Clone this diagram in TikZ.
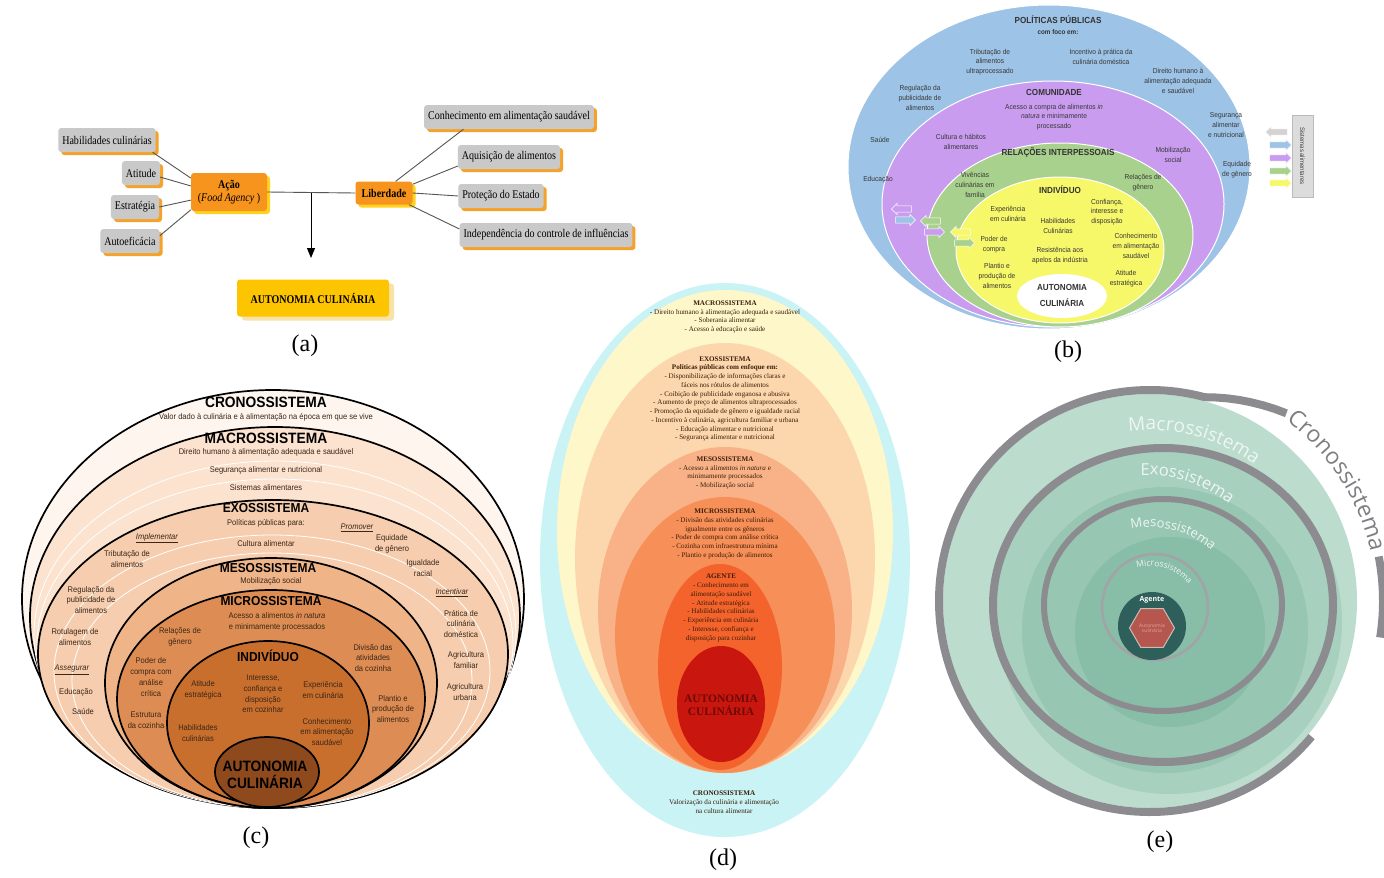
\documentclass[tikz,border=0pt]{standalone}
\usepackage{fontspec}
\setmainfont{Liberation Serif}
\newfontfamily\serifc[FakeStretch=0.85]{Liberation Serif}
\newfontfamily\sansc[FakeStretch=0.92]{Liberation Sans}
\newfontfamily\esans{Open Sans}
\usetikzlibrary{shapes.geometric,shapes.arrows,arrows.meta,decorations.text,shadows}

\definecolor{aGray}{HTML}{C9C9C9}
\definecolor{aOrange}{HTML}{F7941D}
\definecolor{aShadow}{HTML}{F5A22A}
\definecolor{aYellow}{HTML}{FFD21F}
\definecolor{aGold}{HTML}{FDC400}
\definecolor{aPale}{HTML}{F8E2A8}
\definecolor{aLine}{HTML}{555555}

\definecolor{bBlue}{HTML}{9DC3E6}
\definecolor{bPurple}{HTML}{C99CF0}
\definecolor{bGreen}{HTML}{A9D18E}
\definecolor{bYellow}{HTML}{F7F76A}
\definecolor{bGrayA}{HTML}{D3D3D3}
\definecolor{bBox}{HTML}{DCDCDC}
\definecolor{bBoxB}{HTML}{BBBBBB}
\definecolor{bText}{HTML}{383838}

\definecolor{cCrono}{HTML}{FDF5EE}
\definecolor{cMacro}{HTML}{FBE3D0}
\definecolor{cExo}{HTML}{F6CEAF}
\definecolor{cMeso}{HTML}{EFB589}
\definecolor{cMicro}{HTML}{DD8D53}
\definecolor{cInd}{HTML}{C96F2D}
\definecolor{cAut}{HTML}{8E4A1C}
\definecolor{cText}{HTML}{3B2617}

\definecolor{dCyan}{HTML}{C9F3F5}
\definecolor{dYellow}{HTML}{FDF7CA}
\definecolor{dExo}{HTML}{FCD7AD}
\definecolor{dMeso}{HTML}{F9B287}
\definecolor{dMicro}{HTML}{F78F58}
\definecolor{dAgent}{HTML}{F4632C}
\definecolor{dAut}{HTML}{C9160E}
\definecolor{dText}{HTML}{3A1E0A}
\definecolor{dAutText}{HTML}{6E0A06}

\definecolor{eMacro}{HTML}{BCDCCE}
\definecolor{eExo}{HTML}{A8D0BF}
\definecolor{eMeso}{HTML}{97C6B2}
\definecolor{eMicro}{HTML}{88BDA8}
\definecolor{eRing}{HTML}{8C8C90}
\definecolor{eRingL}{HTML}{A3A3A6}
\definecolor{eAgent}{HTML}{2F5F5A}
\definecolor{eHex}{HTML}{B5574E}
\definecolor{eHexB}{HTML}{CBBDB5}
\definecolor{eTextW}{HTML}{EEF6F2}
\definecolor{eHexT}{HTML}{E6A39C}
\definecolor{eCrono}{HTML}{7F7F83}

\tikzset{
  abase/.style={rounded corners=3pt, inner xsep=4pt, inner ysep=2pt, minimum height=24pt,
    font=\serifc\fontsize{11.8}{13}\selectfont},
  gbox/.style={abase, fill=aGray, drop shadow={shadow xshift=3pt, shadow yshift=-3pt, fill=aShadow, opacity=1}},
  obox/.style={abase, fill=aOrange, drop shadow={shadow xshift=3pt, shadow yshift=-3pt, fill=aYellow, opacity=1}},
  ybox/.style={abase, fill=aGold, drop shadow={shadow xshift=5pt, shadow yshift=-4pt, fill=aPale, opacity=1}},
  aline/.style={draw=aLine, line width=0.9pt},
  bt/.style={align=center, font=\sansc\fontsize{7.2}{9.8}\selectfont, text=bText, inner sep=0},
  bh/.style={align=center, font=\sansc\bfseries\fontsize{8.8}{10}\selectfont, text=black!80, inner sep=0},
  barrow/.style={single arrow, inner xsep=0pt, inner ysep=2.8pt, single arrow head extend=2.6pt,
    minimum height=22pt, draw=white, line width=0.5pt},
  ct/.style={align=center, font=\sansc\fontsize{8.2}{10.8}\selectfont, text=cText, inner sep=0},
  ch/.style={align=center, font=\sansc\bfseries\fontsize{13}{14}\selectfont, text=black, inner sep=0},
  chb/.style={align=center, font=\sansc\bfseries\fontsize{15}{17}\selectfont, text=black, inner sep=0},
  cring/.style={draw=black, line width=1.7pt},
  dt/.style={align=center, font=\fontsize{7.1}{8.75}\selectfont, text=dText, inner sep=0},
  lab/.style={font=\fontsize{24}{24}\selectfont, inner sep=0},
  ering/.style={draw=eRing, line width=8pt},
}

\begin{document}
\begin{tikzpicture}[x=1pt,y=1pt]
\useasboundingbox (0,0) rectangle (1384,-878);
\fill[white] (0,0) rectangle (1384,-878);

%================ (a) =================
\node[gbox] (hab) at (107,-140) {Habilidades culinárias};
\node[gbox] (ati) at (141,-173) {Atitude};
\node[gbox] (est) at (135,-207) {Estratégia};
\node[gbox] (aut) at (130,-241) {Autoeficácia};
\node[obox, minimum width=76pt, minimum height=38pt, align=center] (acao) at (229,-192)
  {\textbf{Ação}\\(\textit{Food Agency} )};
\node[obox, minimum width=57pt, minimum height=23pt] (lib) at (384,-193) {\textbf{Liberdade}};
\node[gbox] (con) at (509,-117) {Conhecimento em alimentação saudável};
\node[gbox] (aqu) at (509,-157) {Aquisição de alimentos};
\node[gbox] (pro) at (501,-196) {Proteção do Estado};
\node[gbox] (ind) at (546,-235) {Independência do controle de influências};
\node[ybox, minimum width=152pt, minimum height=37pt] (auto) at (313,-298) {\textbf{AUTONOMIA CULINÁRIA}};

\draw[aline] (hab.-15) -- (acao.160);
\draw[aline] (ati.-12) -- (acao.171);
\draw[aline] (est.east) -- (acao.192);
\draw[aline] (aut.10) -- (acao.205);
\draw[aline] (acao.east) -- (lib.west);
\coordinate (junc) at (311,-193);
\coordinate (arrEnd) at (311,-258);
\draw[line width=1pt, draw=black, -{Triangle[length=10pt,width=8pt]}] (junc) -- (arrEnd);
\draw[aline] (lib.45) -- (con.195);
\draw[aline] (lib.17) -- (aqu.190);
\draw[aline] (lib.east) -- (pro.west);
\draw[aline] (lib.-25) -- (ind.176);
\node[lab] (la) at (305,-346) {(a)};

%================ (b) =================
\fill[bBlue, draw=white, line width=1pt] (1049,-167) ellipse [x radius=201, y radius=162];
\fill[bPurple, draw=white, line width=1pt] (1053,-204) ellipse [x radius=171, y radius=123];
\fill[bGreen, draw=white, line width=1pt] (1060,-235) ellipse [x radius=133, y radius=92];
\fill[bYellow, draw=white, line width=1pt] (1060,-250) ellipse [x radius=104, y radius=73];
\fill[white] (1062,-296) ellipse [x radius=45, y radius=22];

\node[bh] (b1) at (1058,-20) {POLÍTICAS PÚBLICAS};
\node[bh, font=\sansc\bfseries\fontsize{6.8}{8}\selectfont] (b2) at (1058,-32) {com foco em:};
\node[bt] (b3) at (990,-62) {Tributação de\\alimentos\\ultraprocessado};
\node[bt] (b4) at (1101,-57) {Incentivo à prática da\\culinária doméstica};
\node[bt] (b5) at (1178,-81) {Direito humano à\\alimentação adequada\\e saudável};
\node[bt] (b6) at (920,-98) {Regulação da\\publicidade de\\alimentos};
\node[bt] (b7) at (880,-140) {Saúde};
\node[bt] (b8) at (1226,-125) {Segurança\\alimentar\\e nutricional};
\node[bt] (b9) at (878,-180) {Educação};
\node[bt] (b10) at (1237,-170) {Equidade\\de gênero};
\node[bh] (b11) at (1054,-92) {COMUNIDADE};
\node[bt] (b12) at (1054,-117) {Acesso a compra de alimentos \textit{in}\\\textit{natura} e minimamente\\processado};
\node[bt] (b13) at (961,-142) {Cultura e hábitos\\alimentares};
\node[bt] (b14) at (1173,-155) {Mobilização\\social};
\node[bh] (b15) at (1058,-152) {RELAÇÕES INTERPESSOAIS};
\node[bt] (b16) at (975,-185) {Vivências\\culinárias em\\família};
\node[bt] (b17) at (1143,-183) {Relações de\\gênero};
\node[bh] (b18) at (1060,-190) {INDIVÍDUO};
\node[bt] (b19) at (1008,-214) {Experiência\\em culinária};
\node[bt] (b20) at (1058,-226) {Habilidades\\Culinárias};
\node[bt] (b21) at (1107,-212) {Confiança,\\interesse e\\disposição};
\node[bt] (b22) at (994,-245) {Poder de\\compra};
\node[bt] (b23) at (1060,-256) {Resistência aos\\apelos da indústria};
\node[bt] (b24) at (1136,-246) {Conhecimento\\em alimentação\\saudável};
\node[bt] (b25) at (997,-276) {Plantio e\\produção de\\alimentos};
\node[bt] (b26) at (1126,-279) {Atitude\\estratégica};
\node[bh, font=\sansc\bfseries\fontsize{8.8}{16}\selectfont] (b27) at (1062,-295) {AUTONOMIA\\CULINÁRIA};

\node[fill=bBox, draw=bBoxB, line width=0.5pt, minimum width=82pt, minimum height=21pt, rotate=-90,
  font=\sansc\fontsize{6.5}{7}\selectfont, text=black!75, inner sep=1pt] (sbox) at (1302.5,-156) {Sistemas alimentares};
\node[barrow, fill=bGrayA, shape border rotate=180] (sa1) at (1278,-132) {};
\node[barrow, fill=bBlue] (sa2) at (1279,-145) {};
\node[barrow, fill=bPurple] (sa3) at (1279,-158) {};
\node[barrow, fill=bGreen] (sa4) at (1279,-171) {};
\node[barrow, fill=bYellow] (sa5) at (1279,-183) {};

\node[barrow, fill=bPurple, shape border rotate=180, minimum height=20pt] (la1) at (903,-209) {};
\node[barrow, fill=bBlue, minimum height=20pt] (la2) at (904,-220) {};
\node[barrow, fill=bGreen, shape border rotate=180, minimum height=20pt] (la3) at (932,-221) {};
\node[barrow, fill=bPurple, minimum height=20pt] (la4) at (933,-232) {};
\node[barrow, fill=bYellow, shape border rotate=180, minimum height=20pt] (la5) at (962,-232) {};
\node[barrow, fill=bGreen, minimum height=20pt] (la6) at (963,-243) {};
\node[lab] (lb) at (1068,-352) {(b)};

%================ (c) =================
\filldraw[fill=cCrono, cring] (273,-599) ellipse [x radius=251, y radius=209];
\filldraw[fill=cMacro, cring] (275,-617.5) ellipse [x radius=245, y radius=190.5];
\draw[white, line width=0.8pt] (275,-634.5) ellipse [x radius=241, y radius=173.5];
\draw[white, line width=0.8pt] (275,-643.5) ellipse [x radius=238, y radius=164.5];
\filldraw[fill=cExo, cring] (273,-654) ellipse [x radius=235, y radius=154];
\draw[white, line width=0.8pt] (272,-671.5) ellipse [x radius=218, y radius=136.5];
\draw[white, line width=0.8pt] (272,-680.5) ellipse [x radius=200, y radius=127.5];
\filldraw[fill=cMeso, cring] (271,-683) ellipse [x radius=166, y radius=125];
\filldraw[fill=cMicro, cring] (271,-699) ellipse [x radius=154, y radius=109];
\filldraw[fill=cInd, cring] (268,-723) ellipse [x radius=101, y radius=82];
\filldraw[fill=cAut, cring] (267,-772) ellipse [x radius=52, y radius=35];

\node[chb] (c1) at (266,-402) {CRONOSSISTEMA};
\node[ct] (c2) at (266,-417) {Valor dado à culinária e à alimentação na época em que se vive};
\node[chb] (c3) at (266,-438) {MACROSSISTEMA};
\node[ct] (c4) at (266,-452) {Direito humano à alimentação adequada e saudável};
\node[ct] (c5) at (266,-470) {Segurança alimentar e nutricional};
\node[ct] (c6) at (266,-488) {Sistemas alimentares};
\node[ch] (c7) at (266,-508) {EXOSSISTEMA};
\node[ct] (c8) at (266,-523) {Políticas públicas para:};
\node[ct] (c9) at (157,-538) {\underline{\textit{Implementar}}};
\node[ct] (c10) at (357,-528) {\underline{\textit{Promover}}};
\node[ct] (c11) at (266,-544) {Cultura alimentar};
\node[ct] (c12) at (392,-544) {Equidade\\de gênero};
\node[ct] (c13) at (423,-568) {Igualdade\\racial};
\node[ct] (c14) at (127,-559) {Tributação de\\alimentos};
\node[ct] (c15) at (91,-600) {Regulação da\\publicidade de\\alimentos};
\node[ct] (c16) at (75,-637) {Rotulagem de\\alimentos};
\node[ct] (c17) at (452,-593) {\underline{\textit{Incentivar}}};
\node[ct] (c18) at (461,-624) {Prática de\\culinária\\doméstica};
\node[ct] (c19) at (466,-660) {Agricultura\\familiar};
\node[ct] (c20) at (465,-692) {Agricultura\\urbana};
\node[ct] (c21) at (72,-670) {\underline{\textit{Assegurar}}};
\node[ct] (c22) at (76,-692) {Educação};
\node[ct] (c23) at (83,-712) {Saúde};
\node[ch] (c24) at (268,-568) {MESOSSISTEMA};
\node[ct] (c25) at (271,-581) {Mobilização social};
\node[ch] (c26) at (271,-601) {MICROSSISTEMA};
\node[ct] (c27) at (277,-622) {Acesso a alimentos \textit{in natura}\\e minimamente processados};
\node[ct] (c28) at (180,-637) {Relações de\\gênero};
\node[ct] (c29) at (373,-658) {Divisão das\\atividades\\da cozinha};
\node[ct] (c30) at (151,-677) {Poder de\\compra com\\análise\\crítica};
\node[ch] (c31) at (268,-656) {INDIVÍDUO};
\node[ct] (c32) at (263,-694) {Interesse,\\confiança e\\disposição\\em cozinhar};
\node[ct] (c33) at (203,-690) {Atitude\\estratégica};
\node[ct] (c34) at (323,-690) {Experiência\\em culinária};
\node[ct] (c35) at (146,-720) {Estrutura\\da cozinha};
\node[ct] (c36) at (198,-733) {Habilidades\\culinárias};
\node[ct] (c37) at (327,-732) {Conhecimento\\em alimentação\\saudável};
\node[ct] (c38) at (393,-709) {Plantio e\\produção de\\alimentos};
\node[chb] (c39) at (265,-775) {AUTONOMIA\\CULINÁRIA};
\node[lab] (lc) at (256,-838) {(c)};

%================ (d) =================
\fill[dCyan] (725,-560) ellipse [x radius=185, y radius=277];
\fill[dYellow] (725,-531) ellipse [x radius=168, y radius=241];
\fill[dExo] (725,-558) ellipse [x radius=150, y radius=215];
\fill[dMeso] (725,-610) ellipse [x radius=127, y radius=163];
\fill[dMicro] (725,-635) ellipse [x radius=110, y radius=138];
\fill[dAgent] (720,-667) ellipse [x radius=62, y radius=103];
\fill[dAut] (721,-704) ellipse [x radius=44, y radius=58];

\node[dt] (d1) at (725,-317) {\textbf{MACROSSISTEMA}\\- Direito humano à alimentação adequada e saudável\\- Soberania alimentar\\- Acesso à educação e saúde};
\node[dt] (d2) at (725,-399) {\textbf{EXOSSISTEMA}\\\textbf{Políticas públicas com enfoque em:}\\- Disponibilização de informações claras e\\fáceis nos rótulos de alimentos\\- Coibição de publicidade enganosa e abusiva\\- Aumento de preço de alimentos ultraprocessados\\- Promoção da equidade de gênero e igualdade racial\\- Incentivo à culinária, agricultura familiar e urbana\\- Educação alimentar e nutricional\\- Segurança alimentar e nutricional};
\node[dt] (d3) at (725,-473) {\textbf{MESOSSISTEMA}\\- Acesso a alimentos \textit{in natura} e\\minimamente processados\\- Mobilização social};
\node[dt] (d4) at (725,-534) {\textbf{MICROSSISTEMA}\\- Divisão das atividades culinárias\\igualmente entre os gêneros\\- Poder de compra com análise crítica\\- Cozinha com infraestrutura mínima\\- Plantio e produção de alimentos};
\node[dt] (d5) at (721,-608) {\textbf{AGENTE}\\- Conhecimento em\\alimentação saudável\\- Atitude estratégica\\- Habilidades culinárias\\- Experiência em culinária\\- Interesse, confiança e\\disposição para cozinhar};
\node[dt, font=\bfseries\fontsize{11.5}{13}\selectfont, text=dAutText] (d6) at (721,-705) {AUTONOMIA\\CULINÁRIA};
\node[dt] (d7) at (724,-802) {\textbf{CRONOSSISTEMA}\\Valorização da culinária e alimentação\\na cultura alimentar};
\node[lab] (ld) at (723,-860) {(d)};

%================ (e) =================
\fill[eMacro] (1150,-601) circle [radius=207];
\fill[eExo] (1163,-605) ellipse [x radius=170, y radius=157];
\fill[eExo] (1170,-622) circle [radius=172];
\fill[eMeso] (1165,-630) circle [radius=143];
\fill[eMicro] (1170,-632) circle [radius=95];
\draw[ering] (1163,-605) ellipse [x radius=170, y radius=157];
\draw[draw=eRing, line width=6pt] (1163,-605) ellipse [x radius=119, y radius=106];
\draw[draw=eRingL, line width=2.5pt] (1155,-607) circle [radius=53];
\node[circle, fill=eAgent, minimum size=68pt, inner sep=0] (agd) at (1152,-626) {};
\node[regular polygon, regular polygon sides=6, minimum size=45pt, fill=eHex, draw=eHexB, line width=1pt,
  inner sep=0, align=center, font=\esans\fontsize{5}{5.5}\selectfont, text=eHexT] (hex) at (1152,-628) {Autonomia\\culinária};
\node[font=\esans\bfseries\fontsize{7}{7}\selectfont, text=white, inner sep=0] (agt) at (1152,-600) {Agente};

% outer ring, opening into the Cronossistema band (one path, same width)
\draw[ering, line join=round] ([shift={(-40:211)}]1150,-601) arc[start angle=-40, end angle=-285, radius=211]
  -- (1216.1,-397.5) -- (1227.8,-398.4) -- (1239.5,-400.0) -- (1251.2,-402.3)
  -- (1263.0,-405.3) -- (1274.7,-408.9) -- (1286.4,-413.3);
\draw[ering] ([shift={(11:233)}]1150,-601) arc[start angle=11, end angle=-9, radius=233];

\path[decorate, decoration={text along path, text align=center,
  text={|\esans\fontsize{19}{19}\selectfont\color{eTextW}|Macrossistema}}]
  ([shift={(110:173)}]1150,-603) arc[start angle=110, end angle=40, radius=173];
\path[decorate, decoration={text along path, text align=center,
  text={|\esans\fontsize{16.5}{16.5}\selectfont\color{eTextW}|Exossistema}}]
  ([shift={(107:134)}]1146,-609) arc[start angle=107, end angle=37, radius=134];
\path[decorate, decoration={text along path, text align=center,
  text={|\esans\fontsize{13}{13}\selectfont\color{eTextW}|Mesossistema}}]
  ([shift={(115:92)}]1150,-619) arc[start angle=115, end angle=35, radius=92];
\path[decorate, decoration={text along path, text align=center,
  text={|\esans\fontsize{8.5}{8.5}\selectfont\color{eTextW}|Microssistema}}]
  ([shift={(115:50)}]1150,-616) arc[start angle=115, end angle=30, radius=50];
\path[decorate, decoration={text along path, text align=left,
  text={|\esans\fontsize{23}{23}\selectfont\color{eCrono}|Cronossistema}}]
  ([shift={(53:226)}]1150,-601) arc[start angle=53, end angle=-20, radius=226];
\node[lab] (le) at (1160,-842) {(e)};
\end{tikzpicture}
\end{document}
